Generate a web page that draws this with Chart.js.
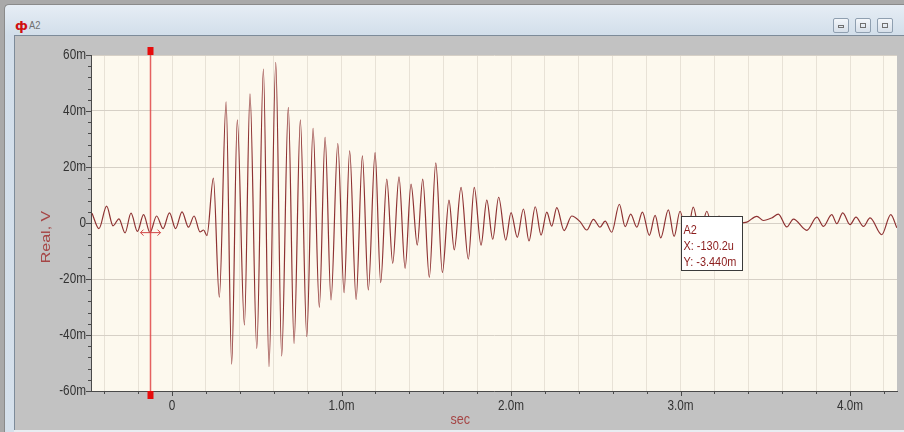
<!DOCTYPE html>
<html><head><meta charset="utf-8">
<script src="https://cdn.jsdelivr.net/npm/chart.js@4/dist/chart.umd.min.js"></script>
<style>
html,body{margin:0;padding:0;width:904px;height:432px;overflow:hidden;background:#a9a9a9;}
#win{position:absolute;left:4px;top:4px;width:904px;height:432px;background:linear-gradient(#e6edf5,#d2deea 30px,#d5e0eb);border-top:1px solid #8a8a8a;border-left:1px solid #8a8a8a;border-top-left-radius:5px;}
#icon{position:absolute;left:10px;top:13px;font:bold 13px "DejaVu Sans",sans-serif;color:#d01010;}
#ttl{position:absolute;left:24px;top:14px;font:11px "Liberation Sans",sans-serif;color:#707070;transform:scaleX(0.85);transform-origin:left top;}
.btn{position:absolute;top:13px;width:16px;height:15px;border:1px solid #8f9fb0;border-radius:2px;background:linear-gradient(#f3f6fa,#d6dfe9);box-sizing:border-box;}
.btn span{position:absolute;left:4px;top:4px;width:6px;height:5px;border:1px solid #707070;box-sizing:border-box;}
#panel{position:absolute;left:14px;top:35px;width:890px;height:395px;background:#c2c2c2;border-left:1px solid #7d8b99;border-top:1px solid #7d8b99;box-sizing:border-box;}
#bot{position:absolute;left:14px;top:430px;width:890px;height:2px;background:#e8edf2;}
canvas{position:absolute;left:0;top:0;}
</style></head>
<body>
<div id="win">
  <div id="icon">ф</div><div id="ttl">A2</div>
  <div class="btn" style="left:828px"><span style="top:6px;height:3px"></span></div>
  <div class="btn" style="left:850px"><span></span></div>
  <div class="btn" style="left:872px"><span></span></div>
</div>
<div id="panel"></div><div id="bot"></div>
<canvas id="c" width="904" height="432"></canvas>
<script>
// time of each extremum, ms
const timesMs = [-0.472,-0.431,-0.386,-0.348,-0.313,-0.277,-0.242,-0.204,-0.168,-0.130,
 -0.091,-0.053,-0.015,0.021,0.059,0.097,0.130,0.165,0.186,0.206,
 0.244,0.279,0.319,0.352,0.385,0.427,0.460,0.500,0.539,0.572,
 0.612,0.647,0.686,0.720,0.757,0.795,0.832,0.869,0.903,0.938,
 0.978,1.015,1.048,1.086,1.123,1.158,1.198,1.231,1.267,1.302,
 1.339,1.375,1.410,1.447,1.479,1.518,1.556,1.595,1.634,1.665,
 1.705,1.748,1.783,1.823,1.857,1.892,1.927,1.969,2.000,2.037,
 2.073,2.106,2.143,2.177,2.211,2.240,2.270,2.313,2.358,2.407,
 2.447,2.486,2.525,2.555,2.594,2.639,2.673,2.706,2.742,2.775,
 2.816,2.850,2.883,2.928,2.962,2.997,3.038,3.075,3.115,3.155,
 3.192,3.227,3.268,3.304,3.339,3.361,3.391,3.450,3.489,3.538,
 3.577,3.627,3.666,3.745,3.804,3.843,3.892,3.922,3.957,4.000,
 4.035,4.079,4.118,4.187,4.240,4.276];
// signal value at each extremum, mV
const valuesMv = [3.5,-2,6,-1,1.5,-3.5,3.5,-3,3,-3.4,
 2.5,-2,3.6,-2,4,-1.5,2.5,-3.2,-2.5,-4.5,
 16,-26.5,43.3,-50.4,36.8,-36.4,46.1,-44.8,55,-51.3,
 57.4,-47.5,41.3,-43,36.8,-40.6,33.8,-30.1,30.6,-27.5,
 28.4,-24.9,25.8,-27.3,24,-23.9,25.1,-21.3,15.7,-14.4,
 16.5,-16.2,13.9,-7.9,15.7,-19.4,21.5,-17.7,8.2,-9.6,
 12.7,-12.9,12.7,-7.9,8.2,-5.8,9.2,-6.1,3.7,-5.1,
 5.0,-6.4,5.8,-4.3,3.9,-1.1,5.5,-2.7,2.5,0.5,
 -2.5,1.3,-1.5,0.7,-3.3,6.7,-1.3,3.2,-1.5,3.9,
 -4.4,2.7,-5.3,4.7,-4.8,4.2,-5,5.7,-4,4.2,
 -3,2.5,-2,1,-0.5,0,0.3,2.4,0.9,1.8,
 3.2,-1.4,1.4,-2.6,2.1,-1.2,3.0,-0.25,3.6,-0.6,
 2.1,-1.2,1.8,-4.2,3.0,-1.7];
const xRange = [-0.478, 4.277];
const yTickValues = [-60,-40,-20,0,20,40,60];
const xLabelValues = [0,1,2,3,4];
const cursorX = -0.1302, cursorY = -3.440;
const readout = ['A2','X: -130.2u','Y: -3.440m'];
const axisTitles = {x:'sec', y:'Real, V'};

const FONT = '"Liberation Sans",Arial,sans-serif';
const SQ = 0.84; // horizontal squeeze of the original screenshot text
const fmtX = v => v===0?'0':v.toFixed(1)+'m';
const fmtY = v => v===0?'0':v+'m';

function sqText(ctx,t,x,y,align){
  ctx.save(); ctx.translate(x,y); ctx.scale(SQ,1); ctx.textAlign=align; ctx.fillText(t,0,0); ctx.restore();
}

const deco = {
  id:'deco',
  beforeDraw(ch){
    const {ctx,chartArea:a}=ch; ctx.save(); ctx.fillStyle='#fdf9ee';
    ctx.fillRect(a.left,a.top,a.right-a.left,a.bottom-a.top); ctx.restore();
  },
  afterDatasetsDraw(ch){
    const {ctx,chartArea:a,scales:{x,y}}=ch; ctx.save();
    const cx=Math.round(x.getPixelForValue(cursorX))+0.5;
    ctx.strokeStyle='rgba(225,70,70,0.85)'; ctx.lineWidth=1.5;
    ctx.beginPath(); ctx.moveTo(cx,a.top); ctx.lineTo(cx,a.bottom); ctx.stroke();
    ctx.fillStyle='#e60c0c';
    ctx.fillRect(cx-3,a.top-8,6,8); ctx.fillRect(cx-3,a.bottom,6,8);
    const cy=y.getPixelForValue(cursorY);
    ctx.strokeStyle='#d04545'; ctx.lineWidth=1;
    ctx.beginPath(); ctx.moveTo(cx-10,cy); ctx.lineTo(cx+10,cy);
    ctx.moveTo(cx-7,cy-3); ctx.lineTo(cx-10,cy); ctx.lineTo(cx-7,cy+3);
    ctx.moveTo(cx+7,cy-3); ctx.lineTo(cx+10,cy); ctx.lineTo(cx+7,cy+3); ctx.stroke();
    // readout box
    const bx=Math.round(x.getPixelForValue(3.0))+0.5, by=Math.round(y.getPixelForValue(2.5))+0.5;
    ctx.fillStyle='#ffffff'; ctx.fillRect(bx,by,61,54);
    ctx.strokeStyle='#3a3a3a'; ctx.strokeRect(bx,by,61,54);
    ctx.fillStyle='#8b1c1c'; ctx.font='13px '+FONT; ctx.textBaseline='alphabetic';
    readout.forEach((t,i)=>sqText(ctx,t,bx+2,by+17+i*16,'left'));
    ctx.restore();
  },
  afterDraw(ch){
    const {ctx,chartArea:a,scales:{x,y}}=ch; ctx.save();
    ctx.strokeStyle='#4a4a4a'; ctx.lineWidth=1; ctx.beginPath();
    for(let v=-60; v<=60; v+=4){ const p=Math.round(y.getPixelForValue(v))+0.5; const l=(v%20===0)?5:3; ctx.moveTo(a.left-l,p); ctx.lineTo(a.left,p); }
    for(let k=-2; k<=21; k++){ const v=k*0.2; const p=Math.round(x.getPixelForValue(v))+0.5; const l=(k%5===0)?5:3; ctx.moveTo(p,a.bottom); ctx.lineTo(p,a.bottom+l); }
    ctx.stroke();
    // tick labels
    ctx.fillStyle='#333'; ctx.font='14px '+FONT; ctx.textBaseline='middle';
    yTickValues.forEach(v=>sqText(ctx,fmtY(v),a.left-5,y.getPixelForValue(v)+0.5,'right'));
    xLabelValues.forEach(v=>sqText(ctx,fmtX(v),x.getPixelForValue(v),a.bottom+15,'center'));
    // axis titles
    ctx.fillStyle='#a54545';
    ctx.font='15px '+FONT;
    sqText(ctx,axisTitles.x, x.getPixelForValue(1.7), a.bottom+29,'center');
    ctx.translate(a.left-45, y.getPixelForValue(-5)); ctx.rotate(-Math.PI/2); ctx.scale(1,SQ);
    ctx.font='16px '+FONT; ctx.textAlign='center';
    ctx.fillText(axisTitles.y,0,0);
    ctx.restore();
  }
};

new Chart(document.getElementById('c'),{
  type:'line',
  data:{datasets:[{data:timesMs.map((t,i)=>({x:t,y:valuesMv[i]})),borderColor:'#8e3232',borderWidth:1.2,
    pointRadius:0,cubicInterpolationMode:'monotone',fill:false}]},
  options:{
    responsive:false, animation:false, devicePixelRatio:1,
    layout:{padding:{left:0,top:55,right:7,bottom:0}},
    plugins:{legend:{display:false},tooltip:{enabled:false}},
    scales:{
      x:{type:'linear',min:xRange[0],max:xRange[1],
        afterBuildTicks:s=>{const t=[];for(let k=-2;k<=21;k++)t.push({value:+(k*0.2).toFixed(1)});s.ticks=t;},
        afterFit:s=>{s.height=41;},
        grid:{color:'#e8e2d6',drawTicks:false},
        border:{color:'#4a4a4a'},
        ticks:{display:false}},
      y:{type:'linear',min:-60,max:60,
        afterBuildTicks:s=>{s.ticks=yTickValues.map(v=>({value:v}));},
        afterFit:s=>{s.width=91;},
        grid:{color:'#d6d0c6',drawTicks:false},
        border:{color:'#4a4a4a'},
        ticks:{display:false}}
    }
  },
  plugins:[deco]
});
</script>
</body></html>
